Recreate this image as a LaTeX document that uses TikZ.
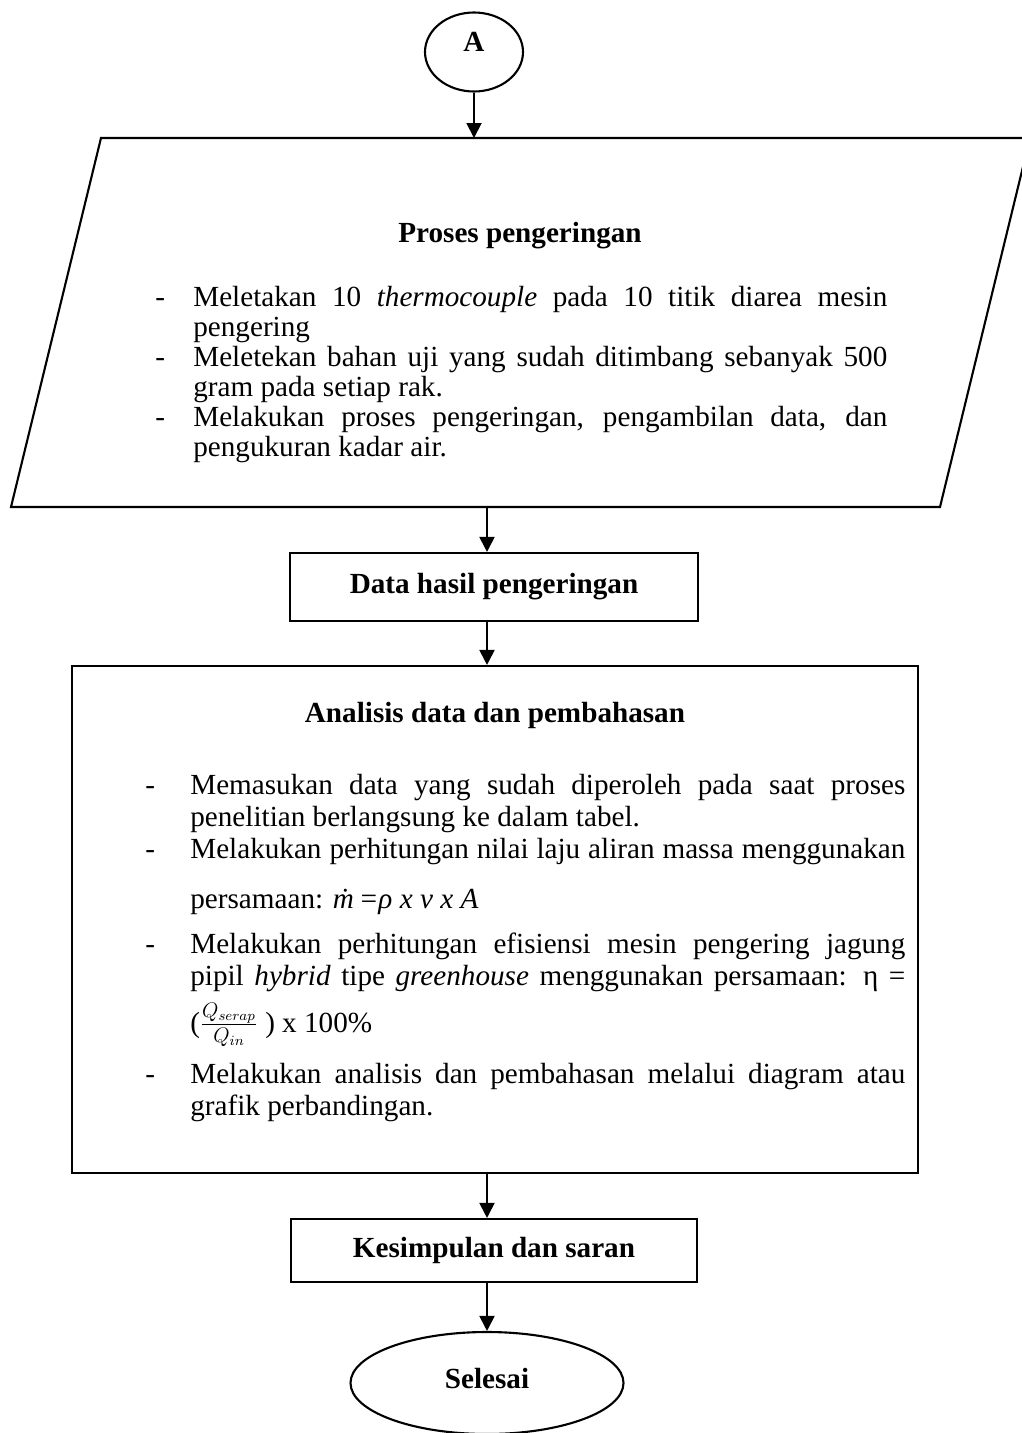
\documentclass[tikz,border=0pt]{standalone}
\usepackage{fontspec}
\setmainfont{Liberation Serif}
\usepackage{tikz}
\usetikzlibrary{arrows.meta, positioning, shapes.geometric}
\newcommand{\fsz}{\fontsize{16.6pt}{18.2pt}\selectfont}
\newcommand{\dashitem}[2]{\par\noindent\hangindent=#1\hangafter=1\makebox[#1][l]{-}#2\par}
\tolerance=10000
\hyphenpenalty=10000
\begin{document}
\begin{tikzpicture}[font=\fsz,
    box/.style={rectangle, draw, line width=1.2pt, inner sep=0pt},
    oval/.style={ellipse, draw, line width=1.2pt, inner sep=0pt, font=\fsz\bfseries},
    list/.style={align=justify, inner sep=0pt, anchor=north west},
    arr/.style={-{Triangle[length=0.3cm, width=0.3cm]}, line width=1.1pt}]
    \fill[white] (0,0) rectangle (20.44,-28.66);
    \useasboundingbox (0,0) rectangle (20.44,-28.66);

    % mulai dari A
    \node[oval, minimum width=1.96cm, minimum height=1.58cm, text depth=0.39cm] (A) at (9.48,-1.04) {A};

    % proses pengeringan
    \coordinate (p1) at (2.02,-2.76);
    \coordinate (p2) at (20.6,-2.76);
    \coordinate (p3) at (18.8,-10.14);
    \coordinate (p4) at (0.22,-10.14);
    \draw[line width=1.2pt] (p1) -- (p2) -- (p3) -- (p4) -- cycle;
    \coordinate (ptop) at (9.48,-2.76);
    \coordinate (pbot) at (9.74,-10.14);

    \node[font=\fsz\bfseries] (ptitle) at (10.4,-4.72) {Proses pengeringan};
    \node[list, text width=14.64cm, font=\fontsize{16.6pt}{17.07pt}\selectfont] (plist) at (3.1,-5.52) {%
        \dashitem{0.76cm}{Meletakan 10 \textit{thermocouple} pada 10 titik diarea mesin\linebreak pengering}
        \dashitem{0.76cm}{Meletekan bahan uji yang sudah ditimbang sebanyak 500\linebreak gram pada setiap rak.}
        \dashitem{0.76cm}{Melakukan proses pengeringan, pengambilan data, dan\linebreak pengukuran kadar air.}};

    % data
    \node[box, minimum width=8.16cm, minimum height=1.36cm, font=\fsz\bfseries] (data) at (9.88,-11.74) {Data hasil pengeringan};

    % analisis
    \node[box, minimum width=16.92cm, minimum height=10.14cm] (anl) at (9.9,-18.39) {};
    \node[font=\fsz\bfseries] (atitle) at (9.9,-14.3) {Analisis data dan pembahasan};
    \node[list, text width=15.2cm] (alist) at (2.9,-15.24) {%
        \dashitem{0.9cm}{Memasukan data yang sudah diperoleh pada saat proses\linebreak penelitian berlangsung ke dalam tabel.}
        \dashitem{0.9cm}{Melakukan perhitungan nilai laju aliran massa menggunakan\vadjust{\vskip 0.36cm}\linebreak persamaan: {\itshape\.{m}\,=ρ x v x A}}
        \vskip 0.26cm
        \dashitem{0.9cm}{Melakukan perhitungan efisiensi mesin pengering jagung\linebreak pipil \textit{hybrid} tipe \textit{greenhouse} menggunakan persamaan: η =\vadjust{\vskip 0.2cm}\linebreak (\(\frac{Q_{serap}}{Q_{in}}\) ) x 100\%}
        \vskip 0.3cm
        \dashitem{0.9cm}{Melakukan analisis dan pembahasan melalui diagram atau\linebreak grafik perbandingan.}};

    % kesimpulan dan selesai
    \node[box, minimum width=8.12cm, minimum height=1.26cm, font=\fsz\bfseries] (kes) at (9.88,-25.01) {Kesimpulan dan saran};
    \node[oval, minimum width=5.46cm, minimum height=2.04cm, text depth=0.2cm] (fin) at (9.74,-27.66) {Selesai};

    \draw[arr] (A) -- (ptop);
    \draw[arr] (pbot) -- (pbot |- data.north);
    \draw[arr] (data.south -| pbot) -- (pbot |- anl.north);
    \draw[arr] (anl.south -| pbot) -- (pbot |- kes.north);
    \draw[arr] (kes.south -| fin) -- (fin);
\end{tikzpicture}
\end{document}
